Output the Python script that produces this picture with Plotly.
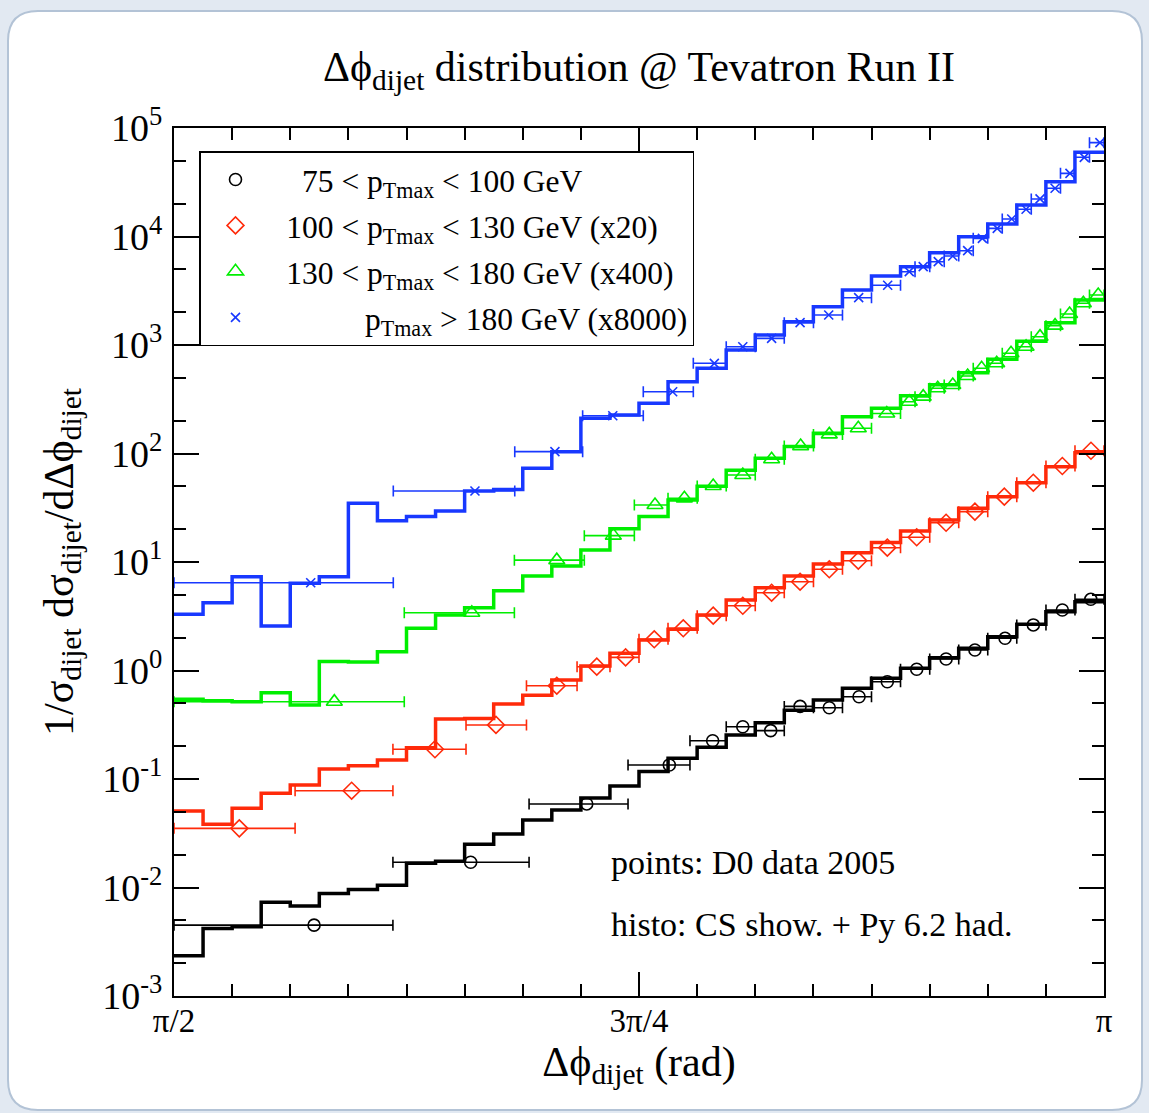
import numpy as np
import plotly.graph_objects as go

PI = np.pi

# ---------------- data (x positions given as fractions of pi) ----------------
# Monte Carlo histograms: 32 bins of width pi/64 from pi/2 to pi (already scaled)
hist_edges_frac = [(32 + k) / 64 for k in range(33)]

hist_75_100 = [2.35e-3, 4.2e-3, 4.35e-3, 7.3e-3, 6.75e-3, 8.8e-3, 9.6e-3, 1.05e-2,
               1.67e-2, 1.75e-2, 2.5e-2, 3.11e-2, 4.19e-2, 5.18e-2, 6.68e-2, 8.6e-2,
               0.117, 0.155, 0.196, 0.255, 0.330, 0.430, 0.535, 0.685,
               0.847, 1.05, 1.31, 1.60, 2.05, 2.67, 3.48, 4.31]
hist_100_130 = [0.0507, 0.0382, 0.0537, 0.0738, 0.0881, 0.1237, 0.1327, 0.1497,
                0.1944, 0.357, 0.362, 0.491, 0.590, 0.817, 1.10, 1.44,
                1.91, 2.40, 3.25, 4.47, 5.80, 7.43, 9.59, 12.2,
                15.1, 19.3, 24.4, 31.3, 40.0, 53.8, 75.6, 101.6]
hist_130_180 = [0.543, 0.527, 0.516, 0.625, 0.481, 1.21, 1.20, 1.49,
                2.45, 3.25, 3.79, 5.44, 7.43, 9.18, 12.9, 20.3,
                26.3, 37.2, 50.0, 70.0, 90.3, 116.0, 153.6, 218.0,
                261.0, 340.0, 430.0, 556.0, 740.0, 1080.0, 1600.0, 2600.0]
hist_180 = [3.30, 4.22, 7.32, 2.57, 6.37, 7.32, 34.8, 24.0,
            26.2, 29.5, 45.1, 46.7, 73.1, 104.0, 211.0, 226.0,
            290.0, 459.0, 610.0, 899.0, 1236.0, 1640.0, 2255.0, 3212.0,
            4325.0, 5272.0, 7096.0, 9960.0, 13030.0, 19500.0, 31990.0, 59700.0]

# D0 data 2005 (already scaled): bin edges, point positions, values
d0_75_100_edges = [0.5, 0.6177, 0.6909, 0.7441, 0.7774, 0.7969, 0.8125, 0.8281, 0.8438,
                   0.8594, 0.8750, 0.8906, 0.9063, 0.9219, 0.9375, 0.9531, 0.9688, 0.9844, 1.0]
d0_75_100_x = [0.5753, 0.6595, 0.7219, 0.7663, 0.7896, 0.8058, 0.8208, 0.8366, 0.8523,
               0.8683, 0.8835, 0.8993, 0.9151, 0.9306, 0.9468, 0.9620, 0.9776, 0.9929]
d0_75_100_y = [4.5e-3, 0.0171, 0.0589, 0.1346, 0.2254, 0.303, 0.279, 0.467, 0.454,
               0.573, 0.788, 1.026, 1.277, 1.545, 1.98, 2.63, 3.61, 4.53]

d0_100_130_edges = [0.5, 0.5651, 0.6177, 0.6570, 0.6895, 0.7167, 0.7344, 0.7500, 0.7656,
                    0.7813, 0.7969, 0.8125, 0.8281, 0.8438, 0.8594, 0.8750, 0.8906,
                    0.9063, 0.9219, 0.9375, 0.9531, 0.9688, 0.9844, 1.0]
d0_100_130_x = [0.5351, 0.5955, 0.6403, 0.6731, 0.7058, 0.7273, 0.7428, 0.7582, 0.7738,
                0.7899, 0.8058, 0.8213, 0.8366, 0.8523, 0.8679, 0.8835, 0.8993, 0.9151,
                0.9306, 0.9464, 0.9620, 0.9776, 0.9930]
d0_100_130_y = [0.0351, 0.078, 0.188, 0.315, 0.724, 1.084, 1.32, 1.94, 2.45,
                3.20, 3.95, 5.21, 6.58, 8.57, 10.28, 13.55, 16.9, 23.0,
                29.1, 40.0, 53.8, 76.7, 106.0]

d0_130_180_edges = [0.5, 0.6238, 0.6830, 0.7206, 0.7475, 0.7656, 0.7813, 0.7969, 0.8125,
                    0.8281, 0.8438, 0.8594, 0.8750, 0.8906, 0.8984, 0.9063, 0.9141, 0.9219,
                    0.9297, 0.9375, 0.9453, 0.9531, 0.9609, 0.9688, 0.9766, 0.9844, 0.9922, 1.0]
d0_130_180_x = [0.5862, 0.6601, 0.7058, 0.7362, 0.7586, 0.7744, 0.7899, 0.8058, 0.8213,
                0.8369, 0.8523, 0.8679, 0.8832, 0.8953, 0.9028, 0.9106, 0.9187, 0.9267,
                0.9342, 0.9423, 0.9500, 0.9581, 0.9656, 0.9737, 0.9815, 0.9889, 0.9969]
d0_130_180_y = [0.516, 3.41, 10.4, 17.5, 33.5, 38.6, 50.1, 63.4, 88.5,
                117.0, 150.0, 171.0, 234.0, 300.0, 334.0, 399.0, 428.0, 518.0,
                610.0, 678.0, 839.0, 964.0, 1193.0, 1507.0, 1930.0, 2422.0, 2890.0]

d0_180_edges = [0.5, 0.6179, 0.6832, 0.7197, 0.7523, 0.7792, 0.7969, 0.8125, 0.8281,
                0.8438, 0.8594, 0.8750, 0.8906, 0.8984, 0.9063, 0.9141, 0.9219, 0.9297,
                0.9375, 0.9453, 0.9531, 0.9609, 0.9688, 0.9766, 0.9844, 0.9922, 1.0]
d0_180_x = [0.5735, 0.6618, 0.7048, 0.7359, 0.7681, 0.7905, 0.8058, 0.8213, 0.8366,
            0.8520, 0.8681, 0.8837, 0.8953, 0.9028, 0.9109, 0.9187, 0.9267, 0.9346,
            0.9426, 0.9504, 0.9581, 0.9656, 0.9737, 0.9817, 0.9894, 0.9978]
d0_180_y = [6.44, 45.1, 104.0, 223.0, 371.0, 678.0, 964.0, 1152.0, 1607.0,
            1889.0, 2729.0, 3550.0, 4740.0, 5270.0, 5860.0, 6610.0, 7400.0, 9620.0,
            11890.0, 14490.0, 17810.0, 22190.0, 27810.0, 38210.0, 53670.0, 73240.0]

legend_labels = [
    "\u2002\u200775 < p<sub>Tmax</sub> < 100 GeV",
    "\u2002100 < p<sub>Tmax</sub> < 130 GeV (x20)",
    "\u2002130 < p<sub>Tmax</sub> < 180 GeV (x400)",
    "\u2002\u2007\u2007\u2007\u00a0\u2002\u00a0p<sub>Tmax</sub> > 180 GeV (x8000)",
]

x_tick_frac = [0.5, 0.625, 0.75, 0.875, 1.0]
x_tick_text = ["\u03c0/2", "", "3\u03c0/4", "", "\u03c0"]
x_minor_frac = [(16 + k) / 32 for k in range(17)]
y_tick_exp = [-3, -2, -1, 0, 1, 2, 3, 4, 5]

# ---------------- styling ----------------
FONT = "Liberation Serif, Times New Roman, serif"
PHI = "\u03d5"
colors = ["#000000", "#ff2a0a", "#00ee00", "#1838ff"]
symbols = ["circle-open", "diamond-open", "triangle-up-open", "x-thin-open"]
sizes = [12, 13, 14, 9]

hists = [hist_75_100, hist_100_130, hist_130_180, hist_180]
datasets = [
    (d0_75_100_edges, d0_75_100_x, d0_75_100_y),
    (d0_100_130_edges, d0_100_130_x, d0_100_130_y),
    (d0_130_180_edges, d0_130_180_x, d0_130_180_y),
    (d0_180_edges, d0_180_x, d0_180_y),
]

fig = go.Figure()
hx = PI * np.array(hist_edges_frac)
for h, c in zip(hists, colors):
    fig.add_trace(go.Scatter(
        x=hx, y=list(h) + [h[-1]], mode="lines", line=dict(color=c, width=3.5, shape="hv"),
        showlegend=False, hoverinfo="skip"))

for i, ((edges, xs, ys), c, s, sz, lab) in enumerate(zip(datasets, colors, symbols, sizes, legend_labels)):
    e = PI * np.array(edges)
    x = PI * np.array(xs)
    lo, hi = e[:-1], e[1:]
    fig.add_trace(go.Scatter(
        x=x, y=ys, mode="markers", name=lab, legendgroup=f"g{i}",
        marker=dict(symbol=s, size=sz, color=c, line=dict(color=c, width=1.6)),
        error_x=dict(type="data", symmetric=False, array=hi - x, arrayminus=x - lo,
                     color=c, thickness=1.6, width=5.5),
    ))

# plot-area geometry in pixels
W, H = 1149, 1113
L, R, T, B = 174, 1104, 128, 996
def px(X):
    return (X - L) / (R - L)
def py(Y):
    return (B - Y) / (B - T)

# rounded white panel behind everything
x0, x1, y0, y1 = px(8), px(1142), py(1110), py(11)
dx, dy = 30 / (R - L), 30 / (B - T)
panel = (f"M {x0+dx},{y1} L {x1-dx},{y1} Q {x1},{y1} {x1},{y1-dy} L {x1},{y0+dy} "
         f"Q {x1},{y0} {x1-dx},{y0} L {x0+dx},{y0} Q {x0},{y0} {x0},{y0+dy} "
         f"L {x0},{y1-dy} Q {x0},{y1} {x0+dx},{y1} Z")
fig.add_shape(type="path", path=panel, xref="paper", yref="paper", layer="below",
              fillcolor="white", line=dict(color="#b3c3d6", width=2))

fig.update_layout(
    width=W, height=H, autosize=False,
    margin=dict(l=L, r=W - R, t=T, b=H - B, pad=0),
    paper_bgcolor="#e2e9f2", plot_bgcolor="white",
    font=dict(family=FONT, color="black", size=30),
    title=dict(text=f"\u0394{PHI}<sub>dijet</sub> distribution @ Tevatron Run II",
               x=0.5, xref="paper", xanchor="center", y=1 - 66 / H, yref="container",
               yanchor="middle", font=dict(family=FONT, size=42, color="black")),
    xaxis=dict(range=[PI / 2, PI], tickmode="array", tickvals=PI * np.array(x_tick_frac),
               ticktext=x_tick_text, ticks="inside", ticklen=24, tickwidth=1.5,
               tickcolor="black", showline=True, linecolor="black", linewidth=2,
               mirror="allticks", showgrid=False, zeroline=False,
               tickfont=dict(family=FONT, size=33), ticklabelstandoff=-6,
               minor=dict(tickmode="array", tickvals=PI * np.array(x_minor_frac),
                          ticks="inside", ticklen=12, tickwidth=1.5, tickcolor="black",
                          showgrid=False),
               title=dict(text=f"\u0394{PHI}<sub>dijet</sub> (rad)",
                          font=dict(family=FONT, size=42), standoff=6)),
    yaxis=dict(type="log", range=[-3, 5], tickmode="array",
               tickvals=[10.0 ** k for k in y_tick_exp],
               ticktext=[f"10<sup>{k}</sup>" for k in y_tick_exp],
               ticks="inside", ticklen=25, tickwidth=1.5, tickcolor="black",
               showline=True, linecolor="black", linewidth=2, mirror="allticks",
               showgrid=False, zeroline=False, tickfont=dict(family=FONT, size=38),
               ticklabelstandoff=2,
               minor=dict(ticks="inside", ticklen=12, tickwidth=1.5, tickcolor="black",
                          showgrid=False),
               title=dict(text=f"1/\u03c3<sub>dijet</sub> d\u03c3<sub>dijet</sub>/d\u0394{PHI}<sub>dijet</sub>",
                          font=dict(family=FONT, size=42), standoff=16)),
    legend=dict(x=px(199), y=py(151), xanchor="left", yanchor="top",
                bgcolor="white", bordercolor="black", borderwidth=1.5,
                font=dict(family=FONT, size=31.5), itemsizing="trace", itemwidth=60,
                traceorder="grouped", tracegroupgap=2),
    showlegend=True,
)

fig.add_annotation(text="points: D0 data 2005", x=px(609), y=py(862), xref="paper",
                   yref="paper", xanchor="left", yanchor="middle", showarrow=False,
                   font=dict(family=FONT, size=34))
fig.add_annotation(text="histo: CS show. + Py 6.2 had.", x=px(609), y=py(924), xref="paper",
                   yref="paper", xanchor="left", yanchor="middle", showarrow=False,
                   font=dict(family=FONT, size=34))

fig.write_html("out.html")
